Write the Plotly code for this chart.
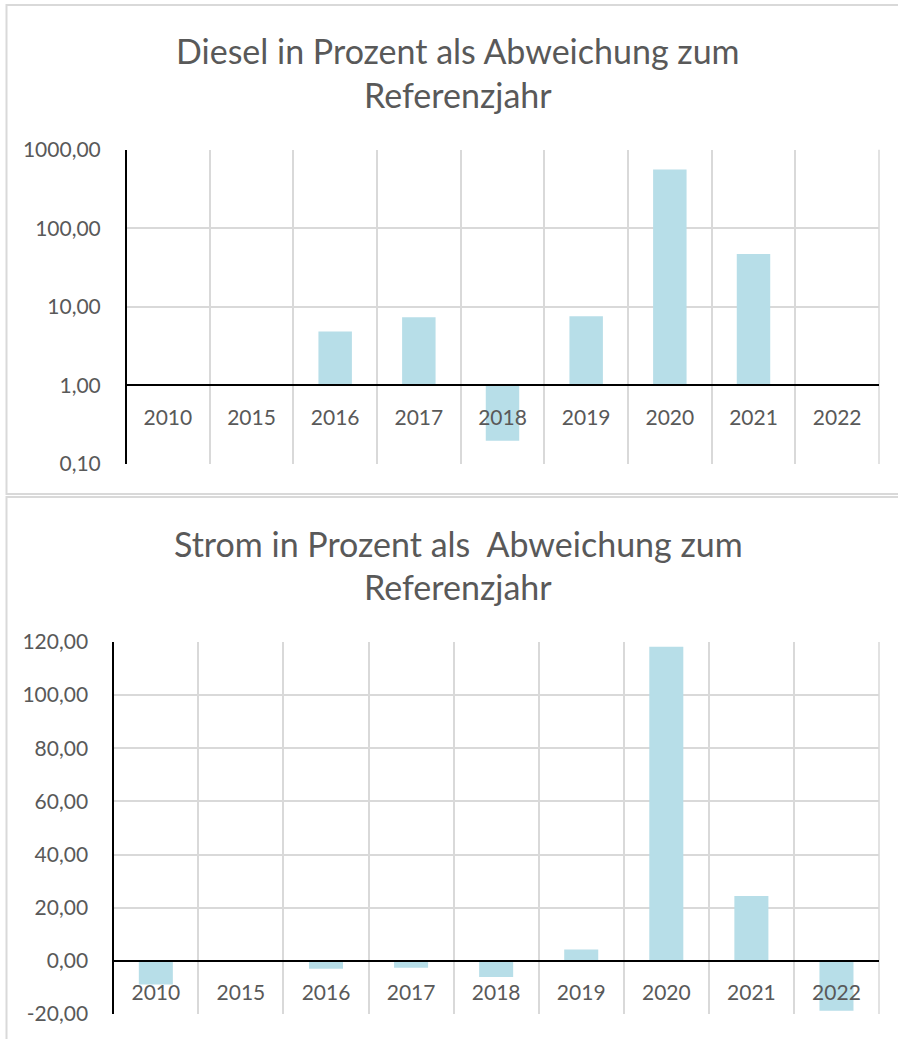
import plotly.graph_objects as go

W, H = 898, 1039

years = ["2010", "2015", "2016", "2017", "2018", "2019", "2020", "2021", "2022"]
diesel = [None, None, 4.86, 7.4, 0.198, 7.6, 560.0, 47.0, None]
strom = [-8.9, None, -3.0, -2.6, -6.1, 4.3, 118.2, 24.4, -18.8]

diesel_ticks = [0.1, 1, 10, 100, 1000]
diesel_ticktext = ["0,10", "1,00", "10,00", "100,00", "1000,00"]
strom_ticks = [-20, 0, 20, 40, 60, 80, 100, 120]
strom_ticktext = ["-20,00", "0,00", "20,00", "40,00", "60,00", "80,00", "100,00", "120,00"]

title1 = ["Diesel in Prozent als Abweichung zum", "Referenzjahr"]
title2 = ["Strom in Prozent als\u00a0 Abweichung zum", "Referenzjahr"]

BAR = "#B7DEE8"
GRID = "#D9D9D9"
TXT = "#595959"
FONT = "Lato, 'Open Sans', sans-serif"


def px_x(x):
    return x / W


def px_y(y):
    return 1 - y / H


# plot areas (pixels)
top_x = (126, 879)
top_y = (149.7, 464)
bot_x = (113.3, 879)
bot_y = (642, 1014)

top_dom_y = [px_y(top_y[1]), px_y(top_y[0])]
bot_dom_y = [px_y(bot_y[1]), px_y(bot_y[0])]

# axis crossing positions (base values 1 on log axis, 0 on linear axis)
top_cross = top_dom_y[0] + (0 - (-1)) / (3 - (-1)) * (top_dom_y[1] - top_dom_y[0])
bot_cross = bot_dom_y[0] + (0 - (-20)) / (120 - (-20)) * (bot_dom_y[1] - bot_dom_y[0])

fig = go.Figure()

fig.add_trace(go.Bar(
    x=years,
    y=[None if v is None else v - 1 for v in diesel],
    base=1,
    marker=dict(color=BAR, line=dict(width=0)),
    xaxis="x", yaxis="y",
    customdata=diesel,
    hovertemplate="%{x}: %{customdata}<extra></extra>",
))

fig.add_trace(go.Bar(
    x=years,
    y=strom,
    marker=dict(color=BAR, line=dict(width=0)),
    xaxis="x2", yaxis="y2",
))

common_x = dict(
    type="category",
    categoryorder="array",
    categoryarray=years,
    tickson="boundaries",
    showgrid=True,
    gridcolor=GRID,
    gridwidth=1.5,
    showline=True,
    linecolor="black",
    linewidth=2,
    ticks="",
    ticklabelstandoff=13,
    tickfont=dict(family=FONT, size=21, color=TXT),
    anchor="free",
    automargin=False,
    fixedrange=True,
)

common_y = dict(
    showgrid=True,
    gridcolor=GRID,
    gridwidth=1.5,
    showline=True,
    linecolor="black",
    linewidth=2,
    ticks="",
    ticklabelstandoff=20,
    tickfont=dict(family=FONT, size=21, color=TXT),
    zeroline=False,
    anchor="free",
    automargin=False,
    fixedrange=True,
)

fig.update_layout(
    width=W,
    height=H,
    autosize=False,
    margin=dict(l=0, r=0, t=0, b=0, pad=0, autoexpand=False),
    paper_bgcolor="white",
    plot_bgcolor="white",
    showlegend=False,
    bargap=0.6,
    xaxis=dict(common_x, domain=[px_x(top_x[0]), px_x(top_x[1])], position=top_cross),
    yaxis=dict(common_y, type="log", range=[-1, 3], tickvals=diesel_ticks,
               ticktext=diesel_ticktext, domain=top_dom_y, position=px_x(top_x[0])),
    xaxis2=dict(common_x, domain=[px_x(bot_x[0]), px_x(bot_x[1])], position=bot_cross),
    yaxis2=dict(common_y, range=[-20, 120], tickvals=strom_ticks,
                ticktext=strom_ticktext, domain=bot_dom_y, position=px_x(bot_x[0])),
)

# chart frames
fig.add_shape(type="rect", xref="paper", yref="paper",
              x0=px_x(6.5), x1=px_x(930), y0=px_y(494), y1=px_y(5),
              line=dict(color=GRID, width=2), fillcolor="rgba(0,0,0,0)", layer="below")
fig.add_shape(type="rect", xref="paper", yref="paper",
              x0=px_x(6.5), x1=px_x(930), y0=px_y(1060), y1=px_y(497),
              line=dict(color=GRID, width=2), fillcolor="rgba(0,0,0,0)", layer="below")

# right border of each plot area (last category boundary gridline)
for xa, ya in (("x domain", "y domain"), ("x2 domain", "y2 domain")):
    fig.add_shape(type="line", xref=xa, yref=ya, x0=1, x1=1, y0=0, y1=1,
                  line=dict(color=GRID, width=1.5), layer="below")

# titles
for lines, ys in ((title1, (50, 94)), (title2, (543, 586))):
    for text, yy in zip(lines, ys):
        fig.add_annotation(
            text=text, xref="paper", yref="paper",
            x=px_x(458), y=px_y(yy), xanchor="center", yanchor="middle",
            showarrow=False,
            font=dict(family=FONT, size=34, color=TXT),
        )

fig.write_html(
    "out.html",
    config={"displayModeBar": False},
    post_script="document.body.style.margin='0';document.body.style.overflow='hidden';",
)
